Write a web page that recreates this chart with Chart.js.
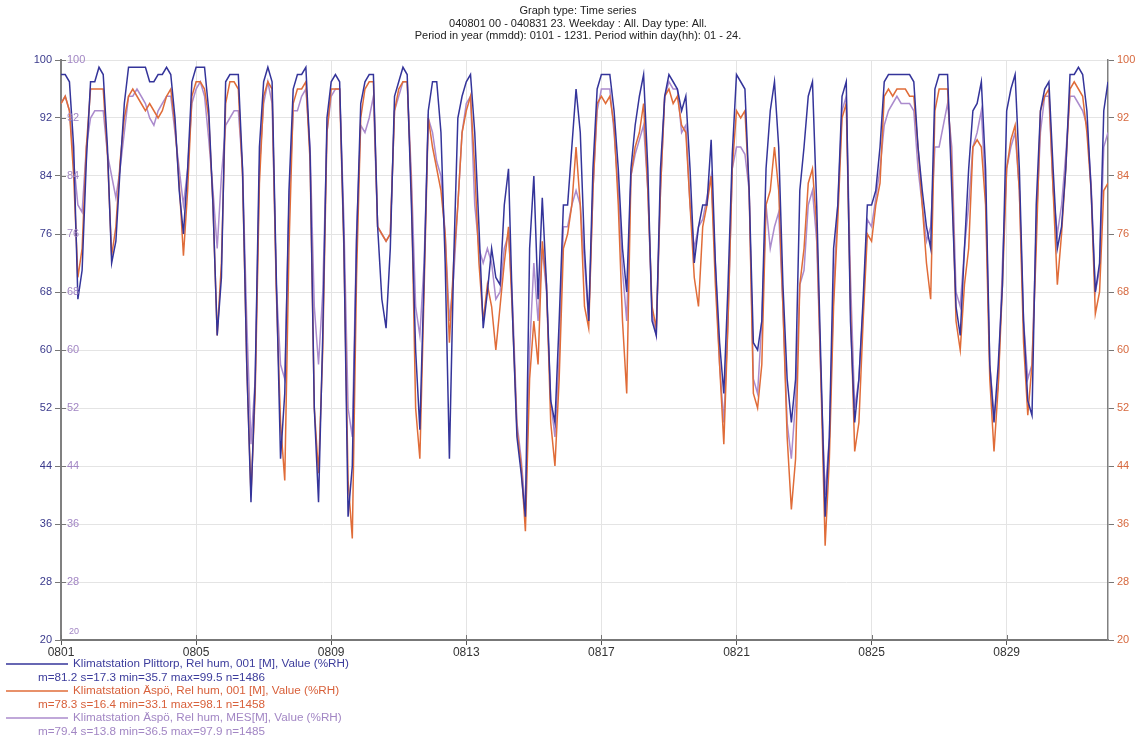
<!DOCTYPE html>
<html lang="sv">
<head>
  <meta charset="UTF-8" />
  <title>Rel hum – augusti</title>
  <script src="https://cdn.jsdelivr.net/npm/chart.js"></script>
  <style>
    html, body { margin: 0; padding: 0; background: #fff; }
    canvas { display: block; }
  </style>
</head>
<body>
  <canvas id="chart" width="1147" height="739"></canvas>

  <script>
    const titleLines = [
      "Graph type: Time series",
      "040801 00 - 040831 23. Weekday : All. Day type: All.",
      "Period in year (mmdd): 0101 - 1231. Period within day(hh): 01 - 24."
    ];
    const dayTicks = ["0801", "0805", "0809", "0813", "0817", "0821", "0825", "0829"];
    const yTicks = [20, 28, 36, 44, 52, 60, 68, 76, 84, 92, 100];

    const seriesNames = [
      "Klimatstation Plittorp, Rel hum, 001 [M], Value (%RH)",
      "Klimatstation Äspö, Rel hum, 001 [M], Value (%RH)",
      "Klimatstation Äspö, Rel hum, MES[M], Value (%RH)"
    ];
    const seriesStats = [
      "m=81.2 s=17.3 min=35.7 max=99.5 n=1486",
      "m=78.3 s=16.4 min=33.1 max=98.1 n=1458",
      "m=79.4 s=13.8 min=36.5 max=97.9 n=1485"
    ];
    const lineColors = ["#34349a", "#e06c38", "#ab8bcd"];
    const textColors = ["#3c3c9c", "#d8603a", "#a286c4"];

    // 3-hourly readings, one row per day (00,03,...,21 h), last value = 0901 00h
    const plittorp = [
      98, 98, 97, 88, 67, 71, 86, 97,
      97, 99, 98, 88, 72, 75, 85, 94,
      99, 99, 99, 99, 99, 97, 97, 98,
      98, 99, 98, 92, 82, 76, 85, 97,
      99, 99, 99, 93, 80, 62, 70, 97,
      98, 98, 98, 85, 58, 39, 56, 88,
      97, 99, 97, 70, 45, 54, 82, 96,
      98, 98, 99, 87, 52, 39, 62, 92,
      97, 98, 97, 75, 37, 44, 75, 94,
      97, 98, 98, 77, 67, 63, 74, 95,
      97, 99, 98, 80, 60, 49, 70, 93,
      97, 97, 90, 72, 45, 72, 92, 95,
      97, 98, 90, 77, 63, 68, 74, 70,
      69, 80, 85, 64, 48, 43, 37, 74,
      84, 67, 81, 69, 53, 50, 64, 80,
      80, 88, 96, 90, 74, 64, 85, 96,
      98, 98, 98, 93, 85, 74, 68, 85,
      91, 95, 98, 85, 64, 62, 85, 95,
      98, 97, 96, 93, 95, 85, 72, 77,
      80, 80, 89, 72, 61, 54, 69, 87,
      98, 97, 96, 82, 61, 60, 64, 85,
      93, 97, 88, 69, 56, 50, 56, 82,
      88, 95, 97, 80, 58, 37, 48, 74,
      80, 95, 97, 64, 50, 56, 67, 80,
      80, 82, 88, 97, 98, 98, 98, 98,
      98, 98, 97, 88, 82, 77, 74, 96,
      98, 98, 98, 82, 66, 62, 74, 85,
      93, 94, 97, 85, 58, 50, 58, 69,
      93, 96, 98, 85, 64, 53, 51, 80,
      93, 96, 97, 85, 74, 77, 85, 98,
      98, 99, 98, 93, 82, 68, 72, 93,
      97
    ];

    const aspo001 = [
      94, 95, 93, 84, 70, 74, 88, 96,
      96, 96, 96, 87, 73, 77, 86, 92,
      95, 96, 95, 94, 93, 94, 93, 92,
      93, 95, 96, 91, 83, 73, 82, 95,
      97, 97, 96, 92, 80, 62, 72, 94,
      97, 97, 96, 84, 58, 40, 54, 83,
      95, 97, 96, 68, 50, 42, 74, 94,
      96, 96, 97, 86, 52, 43, 60, 90,
      96, 96, 96, 74, 42, 34, 70, 92,
      96, 97, 97, 77, 76, 75, 76, 93,
      96, 97, 97, 82, 52, 45, 68, 92,
      88, 85, 82, 76, 61, 72, 80, 90,
      93, 95, 85, 72, 64, 69, 66, 60,
      66, 72, 77, 64, 49, 44, 35, 56,
      64, 58, 75, 69, 50, 44, 56, 74,
      76, 80, 88, 80, 66, 63, 82, 94,
      95, 94, 95, 91, 80, 64, 54, 84,
      88, 90, 94, 82, 66, 63, 82, 95,
      96, 94, 95, 91, 90, 80, 70, 66,
      77, 80, 84, 69, 58, 47, 64, 85,
      93, 92, 93, 82, 54, 52, 58, 80,
      82, 88, 82, 66, 48, 38, 45, 69,
      74, 83, 85, 77, 56, 33, 45, 66,
      78, 92, 94, 66, 46, 50, 64, 76,
      75, 80, 83, 95, 96, 95, 96, 96,
      96, 95, 95, 88, 80, 72, 67, 93,
      96, 96, 96, 85, 64, 60, 69, 74,
      88, 89, 88, 80, 56, 46, 55, 69,
      85, 89, 91, 82, 61, 51, 58, 74,
      93, 95, 96, 82, 69, 76, 85, 96,
      97, 96, 95, 90, 82, 65, 68, 82,
      83
    ];

    const aspoMes = [
      94, 95, 93, 86, 80, 79, 88, 92,
      93, 93, 93, 87, 84, 81, 85, 90,
      95, 95, 96, 95, 94, 92, 91, 93,
      94, 95, 95, 90, 85, 80, 85, 94,
      96, 97, 95, 89, 82, 74, 84, 91,
      92, 93, 93, 85, 64, 47, 56, 85,
      94, 97, 94, 69, 58, 56, 80, 93,
      93, 95, 96, 88, 66, 58, 68, 90,
      95, 96, 96, 78, 52, 48, 76, 91,
      90, 92, 95, 77, 76, 75, 76, 93,
      95, 97, 97, 84, 66, 62, 72, 92,
      90, 86, 84, 76, 64, 70, 80, 90,
      94, 95, 80, 74, 72, 74, 72, 67,
      68, 74, 76, 66, 50, 45, 38, 60,
      72, 64, 74, 68, 53, 48, 59, 77,
      77, 80, 82, 80, 72, 64, 82, 93,
      96, 96, 96, 90, 82, 71, 64, 84,
      87, 89, 91, 82, 65, 62, 82, 95,
      97, 96, 96, 90, 91, 80, 74, 77,
      78, 81, 84, 72, 58, 50, 64, 85,
      88, 88, 87, 82, 56, 54, 64, 80,
      74, 77, 79, 66, 50, 45, 53, 69,
      71, 80, 82, 75, 56, 40, 48, 68,
      80, 93, 95, 70, 52, 56, 66, 78,
      77, 81, 85, 91, 93, 94, 95, 94,
      94, 94, 93, 85, 80, 75, 77, 88,
      88, 91, 94, 88, 68, 66, 74, 80,
      88, 90, 93, 82, 58, 51, 55, 72,
      85, 88, 90, 82, 64, 56, 58, 77,
      90, 95, 95, 82, 76, 80, 87, 95,
      95, 94, 93, 91, 83, 68, 71, 88,
      90
    ];

    // hours since 0801 00h
    const hours = plittorp.map((_, i) => i * 3);

    const FONT = '"Liberation Sans", Arial, sans-serif';
    Chart.defaults.font.family = FONT;
    Chart.defaults.font.size = 11;

    // title, inner tick labels and the legend block under the plot
    const decorations = {
      id: "decorations",
      afterDraw(chart) {
        const { ctx, chartArea: a, scales } = chart;
        ctx.save();

        ctx.fillStyle = "#222";
        ctx.font = "11px " + FONT;
        ctx.textAlign = "center";
        ctx.textBaseline = "middle";
        titleLines.forEach((t, i) => ctx.fillText(t, 578, 11 + i * 12.5));

        // tick stubs inside the frame
        ctx.strokeStyle = "#777";
        ctx.lineWidth = 1;
        scales.y.ticks.forEach(t => {
          const py = Math.round(scales.y.getPixelForValue(t.value)) + 0.5;
          ctx.beginPath();
          ctx.moveTo(a.left, py);
          ctx.lineTo(a.left + 5, py);
          ctx.stroke();
        });
        scales.x.ticks.forEach(t => {
          const px = Math.round(scales.x.getPixelForValue(t.value)) + 0.5;
          ctx.beginPath();
          ctx.moveTo(px, a.bottom - 5);
          ctx.lineTo(px, a.bottom);
          ctx.stroke();
        });

        // second set of left labels, drawn just inside the axis
        ctx.fillStyle = textColors[2];
        ctx.textAlign = "left";
        scales.y.ticks.forEach((t, i) => {
          const py = scales.y.getPixelForValue(t.value);
          if (i === 0) {
            ctx.font = "9px " + FONT;
            ctx.fillText(String(t.value), a.left + 8, py - 8);
          } else {
            ctx.font = "11px " + FONT;
            ctx.fillText(String(t.value), a.left + 6, py);
          }
        });

        // legend
        ctx.font = "11.7px " + FONT;
        seriesNames.forEach((name, i) => {
          const y0 = 664 + i * 27;
          ctx.strokeStyle = lineColors[i];
          ctx.lineWidth = 1.5;
          ctx.beginPath();
          ctx.moveTo(6, y0);
          ctx.lineTo(68, y0);
          ctx.stroke();
          ctx.fillStyle = textColors[i];
          ctx.fillText(name, 73, y0);
          ctx.fillText(seriesStats[i], 38, y0 + 13.5);
        });

        ctx.restore();
      }
    };

    const grid = "#e4e4e4";

    new Chart(document.getElementById("chart").getContext("2d"), {
      type: "line",
      data: {
        labels: hours,
        datasets: [
          { label: seriesNames[0], data: plittorp, borderColor: lineColors[0], yAxisID: "y" },
          { label: seriesNames[1], data: aspo001, borderColor: lineColors[1], yAxisID: "yR" },
          { label: seriesNames[2], data: aspoMes, borderColor: lineColors[2], yAxisID: "y" }
        ].map(d => ({ ...d, borderWidth: 1.5, pointRadius: 0, tension: 0, fill: false }))
      },
      options: {
        responsive: false,
        devicePixelRatio: 1,
        animation: false,
        layout: { padding: { top: 60, bottom: 79, left: 0, right: 0 } },
        plugins: {
          legend: { display: false },
          tooltip: { enabled: false },
          title: { display: false }
        },
        scales: {
          x: {
            type: "linear",
            min: 0,
            max: 744,
            afterBuildTicks: s => { s.ticks = dayTicks.map((_, i) => ({ value: i * 96 })); },
            afterFit: s => { s.height = 20; },
            ticks: {
              color: "#333",
              font: { size: 12 },
              padding: 0,
              maxRotation: 0,
              autoSkip: false,
              callback: (v, i) => dayTicks[i]
            },
            grid: { color: grid, tickColor: "#555", tickLength: 5 },
            border: { color: "#777", width: 2 }
          },
          y: {
            position: "left",
            min: 20,
            max: 100,
            afterBuildTicks: s => { s.ticks = yTicks.map(v => ({ value: v })); },
            afterFit: s => { s.width = 61; },
            ticks: { color: "#3a3a8c", padding: 3 },
            grid: { color: grid, tickColor: "#777", tickLength: 6 },
            border: { color: "#808080", width: 2 }
          },
          yR: {
            position: "right",
            min: 20,
            max: 100,
            afterBuildTicks: s => { s.ticks = yTicks.map(v => ({ value: v })); },
            afterFit: s => { s.width = 39; },
            ticks: { color: "#d6683e", padding: 3 },
            grid: { drawOnChartArea: false, tickColor: "#777", tickLength: 6 },
            border: { color: "#808080", width: 1.5 }
          }
        }
      },
      plugins: [decorations]
    });
  </script>
</body>
</html>
